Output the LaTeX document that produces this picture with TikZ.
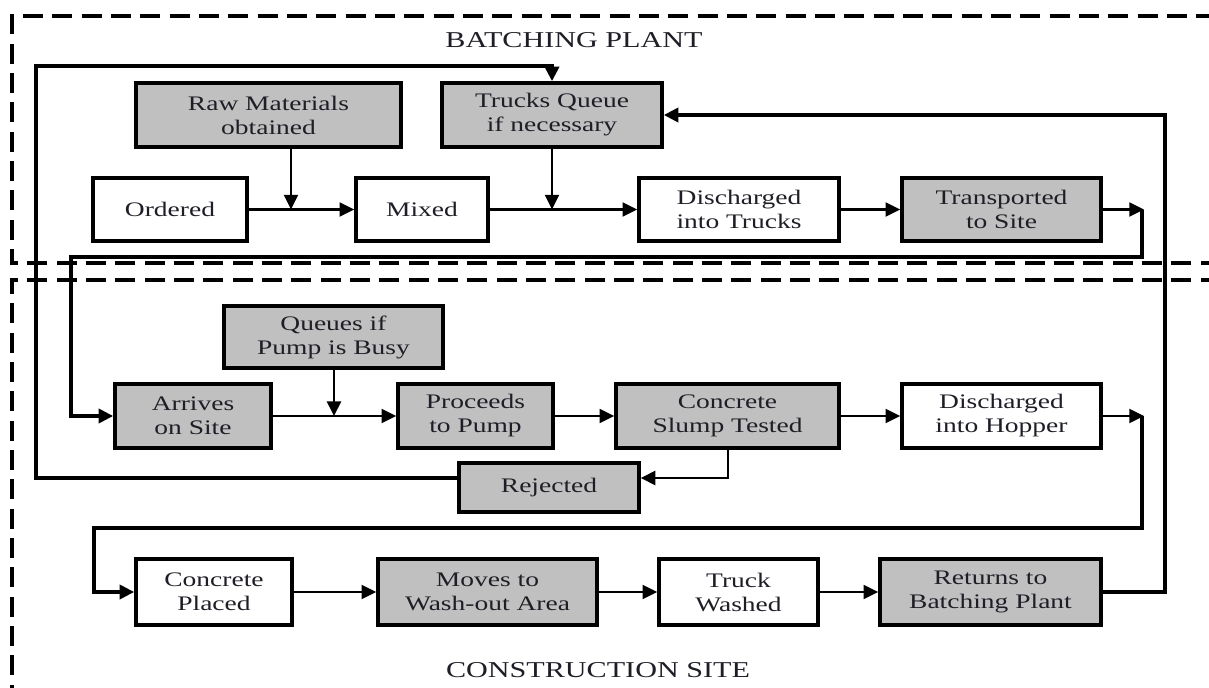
\documentclass[tikz,border=0pt]{standalone}
\usepackage{fontspec}
\setmainfont{Liberation Serif}[FakeStretch=1.33]
\usetikzlibrary{arrows.meta}
\definecolor{boxgray}{RGB}{192,192,192}
\definecolor{txt}{RGB}{30,30,38}
\begin{document}
\begin{tikzpicture}[x=0.75pt,y=-0.75pt,
  box/.style={draw=black,line width=2.6pt,inner sep=0pt,align=center,text=txt,
    font=\fontsize{15.5}{18}\selectfont,minimum height=48pt},
  gbox/.style={box,fill=boxgray},
  wbox/.style={box,fill=white},
  tip/.style={-{Triangle[length=11pt,width=10.5pt]}},
  conn/.style={line width=1.6pt,tip},
  heavy/.style={line width=3pt,line join=miter},
  zone/.style={dash pattern=on 15pt off 7pt,line width=3pt},
  ztitle/.style={text=txt,font=\fontsize{17}{20}\selectfont}
]
\clip (0,0) rectangle (1209,688);
\fill[white] (0,0) rectangle (1209,688);

% zones
\draw[zone] (1250,263) -- (12,263) -- (12,16) -- (1250,16);
\draw[zone] (1250,280) -- (12,280) -- (12,720);
\node[ztitle] (tbp) at (574,40) {BATCHING PLANT};
\node[ztitle] (tcs) at (598,670) {CONSTRUCTION SITE};

% batching plant nodes
\node[gbox,minimum width=198.75pt] (raw) at (268.5,115) {Raw Materials\\obtained};
\node[gbox,minimum width=165pt] (tq) at (552,115) {Trucks Queue\\if necessary};
\node[wbox,minimum width=115.5pt,minimum height=47.25pt] (ord) at (170,209.5) {Ordered};
\node[wbox,minimum width=99pt,minimum height=47.25pt] (mix) at (422,209.5) {Mixed};
\node[wbox,minimum width=150pt,minimum height=47.25pt] (dtr) at (739,209.5) {Discharged\\into Trucks};
\node[gbox,minimum width=149.25pt,minimum height=47.25pt] (trs) at (1001.5,209.5) {Transported\\to Site};

% construction site nodes
\node[gbox,minimum width=164.25pt,minimum height=46.5pt] (que) at (333.5,337) {Queues if\\Pump is Busy};
\node[gbox,minimum width=117pt] (arr) at (193,416) {Arrives\\on Site};
\node[gbox,minimum width=116.25pt] (pro) at (475.5,416) {Proceeds\\to Pump};
\node[gbox,minimum width=167.25pt] (slu) at (727.5,416) {Concrete\\Slump Tested};
\node[wbox,minimum width=149.25pt] (hop) at (1001.5,416) {Discharged\\into Hopper};
\node[gbox,minimum width=135pt,minimum height=36.75pt] (rej) at (549,487.5) {Rejected};
\node[wbox,minimum width=117pt,minimum height=49.5pt] (cpl) at (214,592) {Concrete\\Placed};
\node[gbox,minimum width=164.25pt,minimum height=49.5pt] (mov) at (487.5,592) {Moves to\\Wash-out Area};
\node[wbox,minimum width=119.25pt,minimum height=49.5pt] (tw) at (738.5,592) {Truck\\Washed};
\node[gbox,minimum width=165.75pt,minimum height=49.5pt] (ret) at (990.5,592) {Returns to\\Batching Plant};

% coordinates
\coordinate (j1) at (291,209.5);
\coordinate (j2) at (552,209.5);
\coordinate (j3) at (334,416);
\coordinate (c1) at (1144,209.5);
\coordinate (c1b) at (1142,209.5);
\coordinate (c2) at (1142,257);
\coordinate (c3) at (71,257);
\coordinate (c4) at (71,416);
\coordinate (h1) at (1144,416);
\coordinate (h1b) at (1142,416);
\coordinate (h2) at (1142,528);
\coordinate (h3) at (94,528);
\coordinate (h4) at (94,592);
\coordinate (r1) at (728,478);
\coordinate (l1) at (36,478);
\coordinate (l2) at (36,66);
\coordinate (b1) at (1165,592);
\coordinate (b2) at (1165,115);

% batching plant flow
\draw[conn] (ord.east) -- (mix.west);
\draw[conn] (raw.south -| j1) -- (j1);
\draw[conn] (mix.east) -- (dtr.west);
\draw[conn] (tq.south) -- (j2);
\draw[conn] (dtr.east) -- (trs.west);
\draw[conn] (trs.east) -- (c1);
\draw[heavy,tip] (c1b) -- (c2) -- (c3) -- (c4) -- (arr.west);

% construction site flow
\draw[conn] (arr.east) -- (pro.west);
\draw[conn,line width=2pt] (que.south -| j3) -- (j3);
\draw[conn] (pro.east) -- (slu.west);
\draw[conn] (slu.east) -- (hop.west);
\draw[conn,line width=2pt] (slu.south -| r1) -- (r1) -- (r1 -| rej.east);
\draw[heavy,tip] (r1 -| rej.west) -- (l1) -- (l2) -| (tq.north);
\draw[conn] (hop.east) -- (h1);
\draw[heavy,tip] (h1b) -- (h2) -- (h3) -- (h4) -- (cpl.west);
\draw[conn] (cpl.east) -- (mov.west);
\draw[conn] (mov.east) -- (tw.west);
\draw[conn] (tw.east) -- (ret.west);
\draw[heavy,line width=3.4pt,tip] (ret.east) -- (b1) -- (b2) -- (tq.east);
\end{tikzpicture}
\end{document}
